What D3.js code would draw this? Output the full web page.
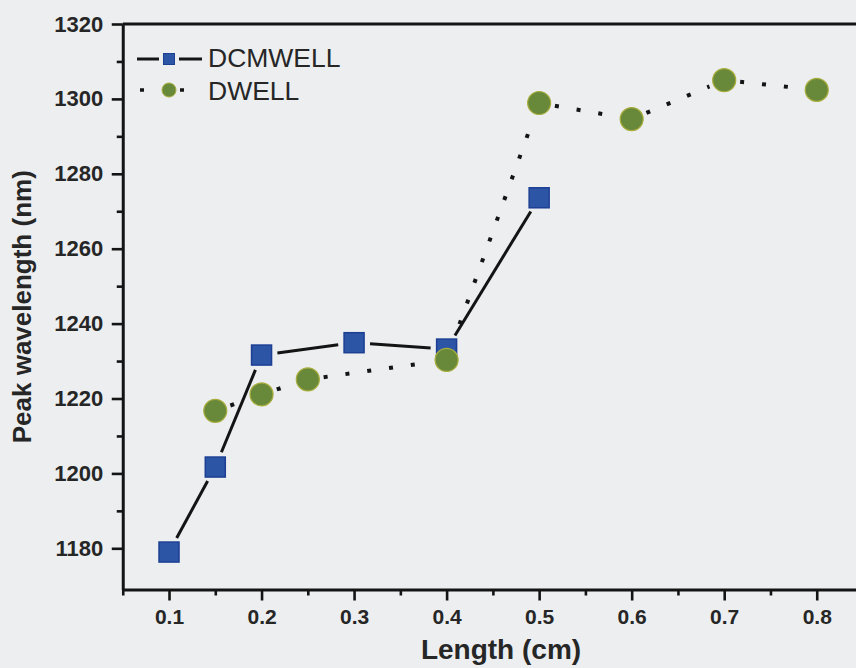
<!DOCTYPE html>
<html>
<head>
<meta charset="utf-8">
<script src="https://cdn.jsdelivr.net/npm/d3@7"></script>
<style>
  html, body { margin: 0; padding: 0; background: #eceef0; }
  svg { display: block; font-family: "Liberation Sans", Arial, Helvetica, sans-serif; }
</style>
</head>
<body>
<svg id="chart" width="856" height="668"></svg>
<script>
// Peak wavelength versus device length for the two structures
const seriesNames = ["DCMWELL", "DWELL"];
const dcmLength = [0.1, 0.15, 0.2, 0.3, 0.4, 0.5];
const dcmPeak   = [1179.0, 1201.7, 1231.6, 1234.9, 1233.2, 1273.6];
const dwellLength = [0.15, 0.2, 0.25, 0.4, 0.5, 0.6, 0.7, 0.8];
const dwellPeak   = [1216.7, 1221.1, 1225.1, 1230.3, 1298.9, 1294.6, 1305.0, 1302.4];
const xTicks      = [0.1, 0.2, 0.3, 0.4, 0.5, 0.6, 0.7, 0.8];
const xMinorTicks = [0.05, 0.15, 0.25, 0.35, 0.45, 0.55, 0.65, 0.75];
const yTicks      = [1180, 1200, 1220, 1240, 1260, 1280, 1300, 1320];
const yMinorTicks = [1190, 1210, 1230, 1250, 1270, 1290, 1310];
const xTitle = "Length (cm)";
const yTitle = "Peak wavelength (nm)";

const svg = d3.select("#chart");
const ink = "#141414";
const txt = "#262626";

const x = d3.scaleLinear().domain([0.05, 0.85]).range([122.75, 863]);
const y = d3.scaleLinear().domain([1169, 1320]).range([589.5, 24]);

// ---- axes ----
const gx = svg.append("g").attr("transform", `translate(0,${y.range()[0]})`)
  .call(d3.axisBottom(x).tickValues(xTicks).tickSize(11).tickSizeOuter(0)
        .tickPadding(9).tickFormat(d3.format(".1f")));
const gxm = svg.append("g").attr("transform", `translate(0,${y.range()[0]})`)
  .call(d3.axisBottom(x).tickValues(xMinorTicks).tickSize(6).tickSizeOuter(0).tickFormat(""));

const gy = svg.append("g").attr("transform", `translate(${x.range()[0]},0)`)
  .call(d3.axisLeft(y).tickValues(yTicks).tickSize(11).tickSizeOuter(0)
        .tickPadding(8.5).tickFormat(d3.format("d")));
const gym = svg.append("g").attr("transform", `translate(${x.range()[0]},0)`)
  .call(d3.axisLeft(y).tickValues(yMinorTicks).tickSize(6).tickSizeOuter(0).tickFormat(""));

[gx, gxm, gy, gym].forEach(g => {
  g.selectAll(".domain").attr("stroke", ink).attr("stroke-width", 3);
  g.selectAll(".tick line").attr("stroke", ink).attr("stroke-width", 2.6);
});
gxm.select(".domain").remove();
gym.select(".domain").remove();
gx.selectAll(".tick text").attr("fill", txt).attr("font-size", 21).attr("font-weight", "bold");
gy.selectAll(".tick text").attr("fill", txt).attr("font-size", 22).attr("font-weight", "bold");

// top frame line
svg.append("line")
  .attr("x1", x.range()[0]).attr("x2", x.range()[1])
  .attr("y1", y(1320)).attr("y2", y(1320))
  .attr("stroke", ink).attr("stroke-width", 3);

// axis titles
svg.append("text").attr("x", 501).attr("y", 659)
  .attr("text-anchor", "middle").attr("font-size", 28).attr("font-weight", "bold")
  .attr("fill", txt).text(xTitle);
svg.append("text")
  .attr("transform", `translate(31,${(y.range()[0] + y.range()[1]) / 2}) rotate(-90)`)
  .attr("text-anchor", "middle").attr("font-size", 26).attr("font-weight", "bold")
  .attr("fill", txt).text(yTitle);

// ---- connecting lines, broken around each marker ----
function gappedSegments(xs, ys, gap) {
  const pts = xs.map((v, i) => [x(v), y(ys[i])]);
  const segs = [];
  for (let i = 0; i < pts.length - 1; i++) {
    const [x0, y0] = pts[i], [x1, y1] = pts[i + 1];
    const len = Math.hypot(x1 - x0, y1 - y0);
    if (len <= 2 * gap) continue;
    const ux = (x1 - x0) / len, uy = (y1 - y0) / len;
    segs.push([[x0 + ux * gap, y0 + uy * gap], [x1 - ux * gap, y1 - uy * gap]]);
  }
  return segs;
}
const line = d3.line();

svg.append("g").selectAll("path")
  .data(gappedSegments(dcmLength, dcmPeak, 16))
  .join("path")
  .attr("d", line).attr("fill", "none")
  .attr("stroke", ink).attr("stroke-width", 3);

svg.append("g").selectAll("path")
  .data(gappedSegments(dwellLength, dwellPeak, 16))
  .join("path")
  .attr("d", line).attr("fill", "none")
  .attr("stroke", ink).attr("stroke-width", 4)
  .attr("stroke-dasharray", "4 18");

// ---- markers ----
const sq = 20;
const squareFill = "#2d55a6", squareEdge = "#1c3f94";
const circleFill = "#68893a", circleEdge = "#a9ad3c";

svg.append("g").selectAll("rect")
  .data(dcmLength.map((v, i) => [v, dcmPeak[i]]))
  .join("rect")
  .attr("x", d => x(d[0]) - sq / 2).attr("y", d => y(d[1]) - sq / 2)
  .attr("width", sq).attr("height", sq)
  .attr("fill", squareFill).attr("stroke", squareEdge).attr("stroke-width", 1.5);

svg.append("g").selectAll("circle")
  .data(dwellLength.map((v, i) => [v, dwellPeak[i]]))
  .join("circle")
  .attr("cx", d => x(d[0])).attr("cy", d => y(d[1])).attr("r", 11.5)
  .attr("fill", circleFill).attr("stroke", circleEdge).attr("stroke-width", 1.2);

// ---- legend ----
const lg = svg.append("g");
const lx = 169, ly1 = 59, ly2 = 90;
lg.append("path").attr("d", line([[137, ly1], [159, ly1]])).attr("stroke", ink).attr("stroke-width", 3);
lg.append("path").attr("d", line([[179, ly1], [202, ly1]])).attr("stroke", ink).attr("stroke-width", 3);
lg.append("rect").attr("x", lx - 5.5).attr("y", ly1 - 5.5).attr("width", 11).attr("height", 11)
  .attr("fill", squareFill).attr("stroke", squareEdge).attr("stroke-width", 1);
lg.append("path").attr("d", line([[140, ly2], [184, ly2]])).attr("stroke", ink)
  .attr("stroke-width", 3.5).attr("stroke-dasharray", "4 36");
lg.append("circle").attr("cx", lx).attr("cy", ly2).attr("r", 7)
  .attr("fill", circleFill).attr("stroke", circleEdge).attr("stroke-width", 1);
lg.selectAll("text").data(seriesNames).join("text")
  .attr("x", 208).attr("y", (d, i) => i === 0 ? 67 : 100)
  .attr("font-size", 26.5).attr("fill", txt).text(d => d);
</script>
</body>
</html>
